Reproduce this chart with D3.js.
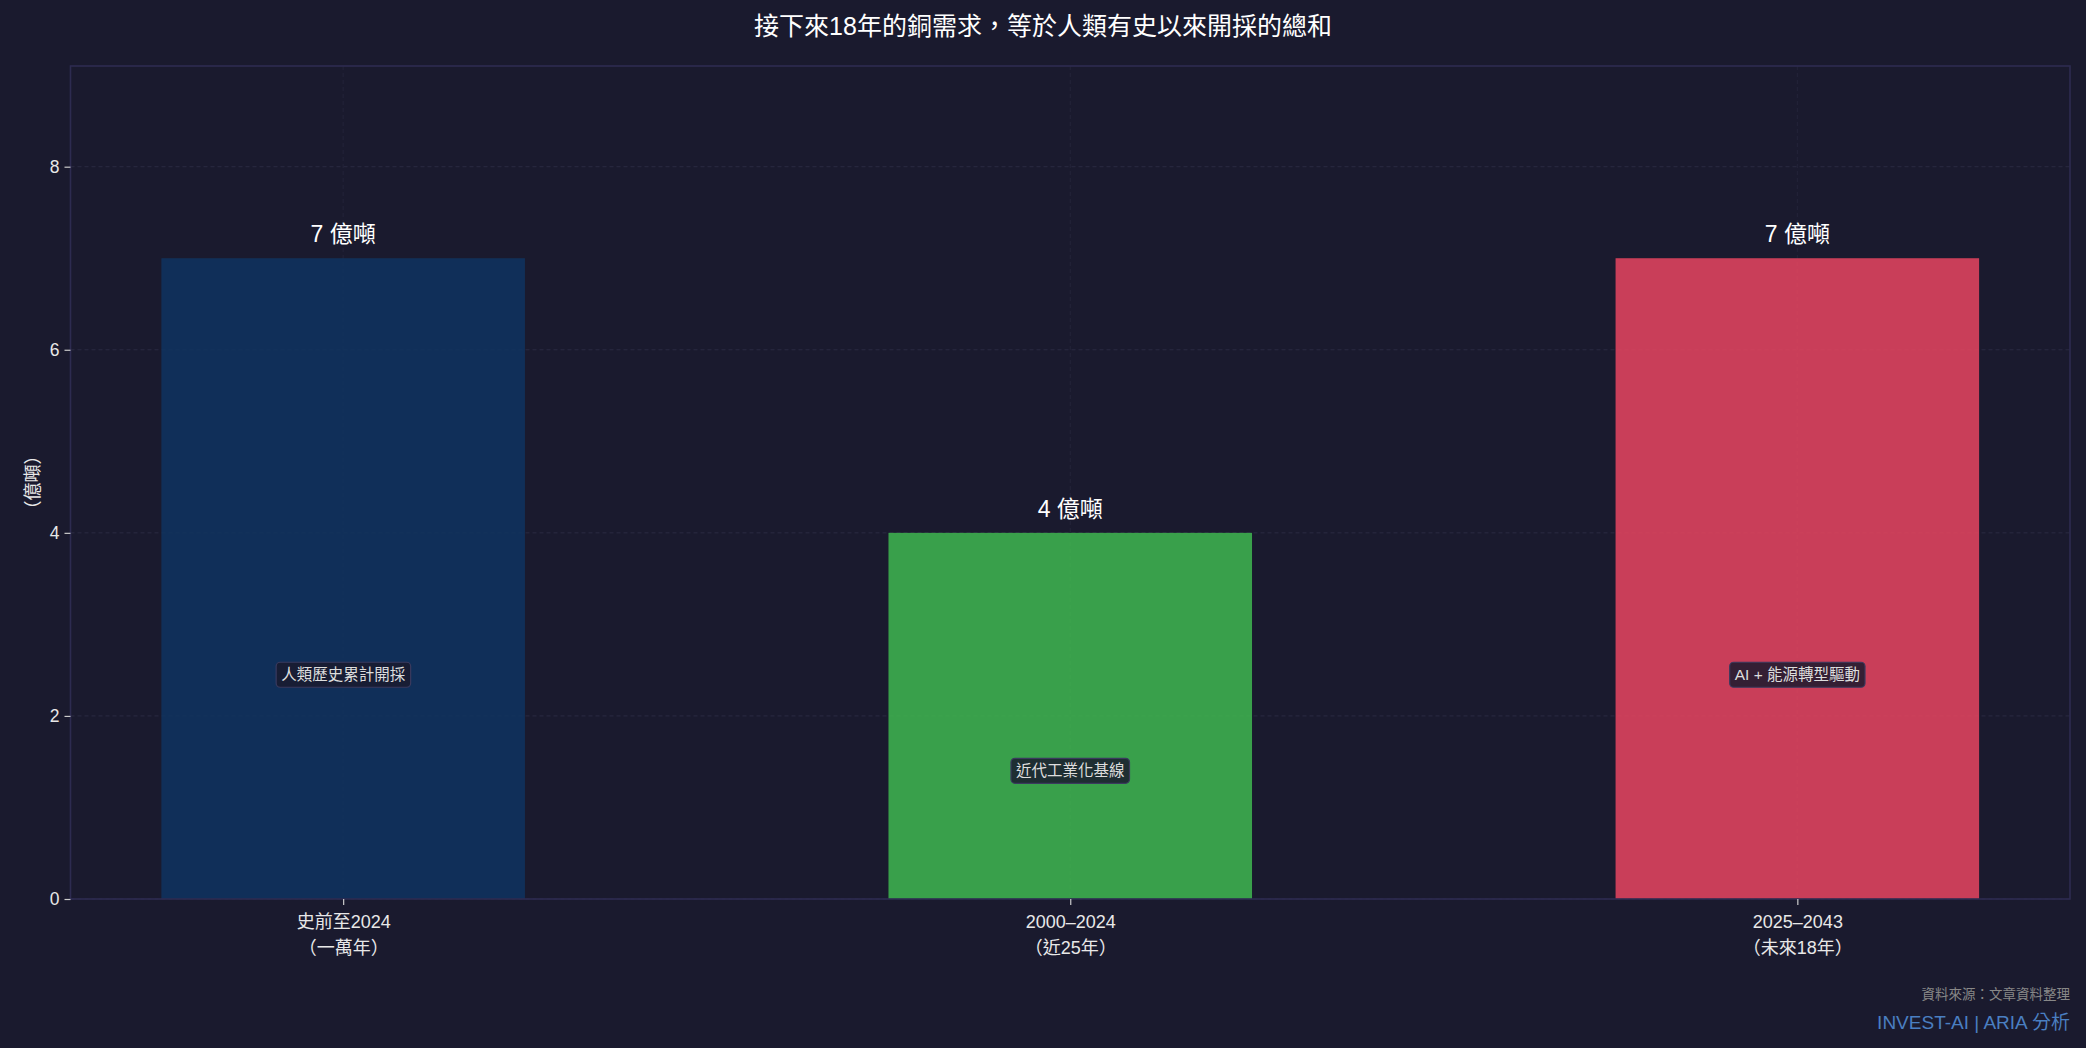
<!DOCTYPE html>
<html>
<head>
<meta charset="utf-8">
<script src="https://cdn.jsdelivr.net/npm/d3@7"></script>
<style>
  html, body { margin: 0; padding: 0; background: #1a1a2e; }
  svg { display: block; }
  text { font-family: "Liberation Sans", Arial, "Noto Sans CJK TC", sans-serif; text-spacing-trim: space-all; }
</style>
</head>
<body>
<svg id="drawing_region"></svg>
<script>
// data
const categories = ["史前至2024", "2000–2024", "2025–2043"];
const subLabels = ["（一萬年）", "（近25年）", "（未來18年）"];
const values = [7, 4, 7];
const valueLabels = ["7 億噸", "4 億噸", "7 億噸"];
const notes = ["人類歷史累計開採", "近代工業化基線", "AI + 能源轉型驅動"];
const yTicks = [0, 2, 4, 6, 8];
const colors = ["#0f3460", "#3fb950", "#e94560"];

const width = 2086, height = 1048;
const margin = {top: 66, right: 16, bottom: 149, left: 70.5};
const innerW = width - margin.left - margin.right;
const innerH = height - margin.top - margin.bottom;

const svg = d3.select('#drawing_region')
    .attr('width', width)
    .attr('height', height);

svg.append('rect')
    .attr('width', width)
    .attr('height', height)
    .attr('fill', '#1a1a2e');

const g = svg.append('g')
    .attr('transform', `translate(${margin.left}, ${margin.top})`);

// x: positions 0..2 like matplotlib, bar width 0.5
const x = d3.scaleLinear()
    .domain([-0.375, 2.375])
    .range([0, innerW]);
const barW = 0.5;

const y = d3.scaleLinear()
    .domain([0, 9.1])
    .range([innerH, 0]);

// grid
g.append('g')
    .selectAll('line')
    .data(yTicks)
    .join('line')
    .attr('x1', 0).attr('x2', innerW)
    .attr('y1', d => y(d)).attr('y2', d => y(d))
    .attr('stroke', '#2a2a42')
    .attr('stroke-width', 1)
    .attr('stroke-dasharray', '4,3');

g.append('g')
    .selectAll('line')
    .data(categories)
    .join('line')
    .attr('x1', (d, i) => x(i)).attr('x2', (d, i) => x(i))
    .attr('y1', 0).attr('y2', innerH)
    .attr('stroke', '#24243a')
    .attr('stroke-width', 1)
    .attr('stroke-dasharray', '4,3');

// bars
g.selectAll('.bar')
    .data(values)
    .join('rect')
    .attr('class', 'bar')
    .attr('x', (d, i) => x(i - barW / 2))
    .attr('width', x(barW) - x(0))
    .attr('y', d => y(d))
    .attr('height', d => innerH - y(d))
    .attr('fill', (d, i) => colors[i])
    .attr('fill-opacity', 0.85);

// value labels
g.selectAll('.vlabel')
    .data(values)
    .join('text')
    .attr('class', 'vlabel')
    .attr('x', (d, i) => x(i))
    .attr('y', d => y(d) - 16)
    .attr('text-anchor', 'middle')
    .attr('fill', '#ffffff')
    .attr('font-size', '23px')
    .text((d, i) => valueLabels[i]);

// notes inside bars
const noteG = g.selectAll('.note')
    .data(values)
    .join('g')
    .attr('class', 'note')
    .attr('transform', (d, i) => `translate(${x(i)}, ${y(d * 0.35)})`);

noteG.append('text')
    .attr('text-anchor', 'middle')
    .attr('dy', '0.36em')
    .attr('fill', '#dddddd')
    .attr('font-size', '15.5px')
    .text((d, i) => notes[i]);

noteG.each(function() {
    const sel = d3.select(this);
    const bb = sel.select('text').node().getBBox();
    sel.insert('rect', 'text')
        .attr('x', bb.x - 5)
        .attr('y', -12.5)
        .attr('width', bb.width + 10)
        .attr('height', 25)
        .attr('rx', 4)
        .attr('fill', '#1a1a2e')
        .attr('fill-opacity', 0.85)
        .attr('stroke', '#3a3a5e')
        .attr('stroke-width', 1.2);
});

// spines
g.append('rect')
    .attr('width', innerW)
    .attr('height', innerH)
    .attr('fill', 'none')
    .attr('stroke', '#2d2b50')
    .attr('stroke-width', 1.6);

// axes
const yAxis = g.append('g')
    .call(d3.axisLeft(y).tickValues(yTicks).tickSize(6).tickPadding(5));
const xAxis = g.append('g')
    .attr('transform', `translate(0, ${innerH})`)
    .call(d3.axisBottom(x).tickValues([0, 1, 2]).tickSize(6).tickPadding(6)
        .tickFormat(i => categories[i]));

[yAxis, xAxis].forEach(a => {
    a.select('.domain').remove();
    a.selectAll('.tick line').attr('stroke', '#cccccc').attr('stroke-width', 1.2);
    a.selectAll('.tick text')
        .attr('fill', '#e8e8e8')
        .attr('font-size', '17.5px')
        .style('font-family', '"Liberation Sans", Arial, "Noto Sans CJK TC", sans-serif');
});

xAxis.selectAll('.tick text')
    .attr('font-size', '18px')
    .each(function(d) {
        const t = d3.select(this);
        t.text(null);
        t.append('tspan').attr('x', 0).attr('dy', '0.95em').text(categories[d]);
        t.append('tspan').attr('x', 0).attr('dy', '1.45em').text(subLabels[d]);
    });

// y axis label
svg.append('text')
    .attr('transform', `translate(33, ${margin.top + innerH / 2}) rotate(-90)`)
    .attr('text-anchor', 'middle')
    .attr('dy', '0.35em')
    .attr('fill', '#e8e8e8')
    .attr('font-size', '18px')
    .text('（億噸）');

// title
svg.append('text')
    .attr('x', width / 2)
    .attr('y', 35)
    .attr('text-anchor', 'middle')
    .attr('fill', '#ffffff')
    .attr('font-size', '25px')
    .text('接下來18年的銅需求，等於人類有史以來開採的總和');

// footer
svg.append('text')
    .attr('x', width - 16)
    .attr('y', 999)
    .attr('text-anchor', 'end')
    .attr('fill', '#888888')
    .attr('font-size', '13.5px')
    .text('資料來源：文章資料整理');

svg.append('text')
    .attr('x', width - 16)
    .attr('y', 1029)
    .attr('text-anchor', 'end')
    .attr('fill', '#4a7fc1')
    .attr('font-size', '19px')
    .text('INVEST-AI | ARIA 分析');
</script>
</body>
</html>
